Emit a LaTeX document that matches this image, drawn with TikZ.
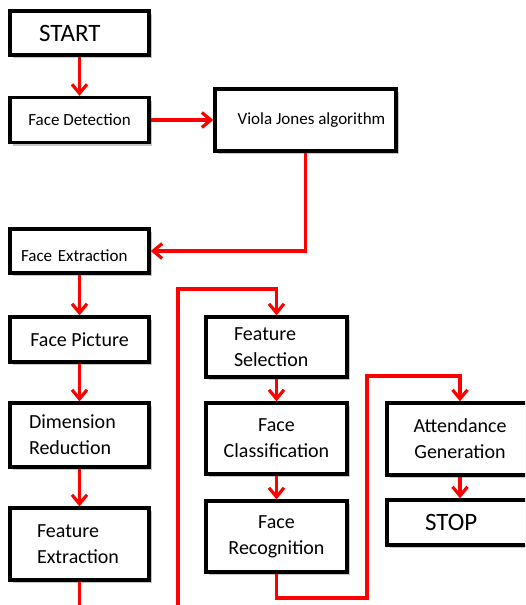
\documentclass[tikz,border=0pt]{standalone}
\usepackage{fontspec}
\setmainfont{Carlito}
\usepackage{tikz}
\usetikzlibrary{positioning,calc,shadows,arrows.meta}

\begin{document}
\begin{tikzpicture}[x=1pt,y=-1pt,
    stepbox/.style={draw=black,line width=3.4pt,fill=white,inner sep=0pt,
        align=center,font=\fontsize{20}{26}\selectfont,
        drop shadow={opacity=0.45,shadow xshift=3pt,shadow yshift=-3pt}},
    small/.style={font=\fontsize{17}{20}\selectfont},
    big/.style={font=\fontsize{25}{30}\selectfont},
    flow/.style={draw=red,line width=3.2pt,-{Straight Barb[length=9pt,width=15pt]}},
    line/.style={draw=red,line width=3.2pt}]
    \useasboundingbox (0,0) rectangle (525,605);
    \clip (0,0) rectangle (525,605);
    % left column
    \node[stepbox,big,minimum width=139,minimum height=44,align=left,text width=81,inner xsep=29] (start) at (79.5,33) {START};
    \node[stepbox,small,minimum width=139,minimum height=45] (detect) at (79.5,120) {Face Detection};
    \node[stepbox,small,minimum width=181,minimum height=62] (viola) at (305.5,120) {\hspace*{12pt}Viola Jones algorithm};
    \node[stepbox,small,minimum width=139,minimum height=44,align=left,text width=117,inner xsep=11] (extract) at (79.5,251) {\raisebox{-10pt}[0pt][0pt]{\mbox{Face Extraction}}};
    \node[stepbox,minimum width=139,minimum height=45] (picture) at (79.5,339.5) {Face Picture};
    \node[stepbox,minimum width=139,minimum height=64,align=left,text width=101,inner xsep=19] (dimred) at (79.5,435) {Dimension\\Reduction};
    \node[stepbox,minimum width=139,minimum height=72,align=left,text width=85,inner xsep=27] (featext) at (79.5,544) {Feature\\Extraction};
    % middle column
    \node[stepbox,minimum width=141,minimum height=60,align=left,text width=85,inner xsep=28] (featsel) at (276.5,347) {Feature\\Selection};
    \node[stepbox,minimum width=141,minimum height=71] (classify) at (276.5,438.5) {Face\\Classification};
    \node[stepbox,minimum width=141,minimum height=71] (recog) at (276.5,536.5) {Face\\Recognition};
    % right column
    \node[stepbox,minimum width=146,minimum height=72] (attend) at (460,439) {Attendance\\Generation};
    \node[stepbox,big,minimum width=146,minimum height=45,align=left,text width=70,inner xsep=38] (stop) at (460,522.5) {STOP};

    \coordinate (cut1) at (79.5,615);
    \coordinate (cut2) at (178,615);
    \coordinate (up1) at (178,289);
    \coordinate (low) at (367,598);
    \coordinate (high) at (367,376);

    \draw[flow] (start) -- (detect);
    \draw[flow] (detect) -- (viola);
    \draw[flow] (viola.south) |- (extract.east);
    \draw[flow] (extract) -- (picture);
    \draw[flow] (picture) -- (dimred);
    \draw[flow] (dimred) -- (featext);
    \draw[line] (featext.south) -- (cut1);
    \draw[flow,line join=miter] (cut2) -- (up1) -| (featsel.north);
    \draw[flow] (featsel) -- (classify);
    \draw[flow] (classify) -- (recog);
    \draw[flow,line join=miter] (recog.south) |- (low) -- (high) -| (attend.north);
    \draw[flow] (attend) -- (stop);
\end{tikzpicture}
\end{document}
